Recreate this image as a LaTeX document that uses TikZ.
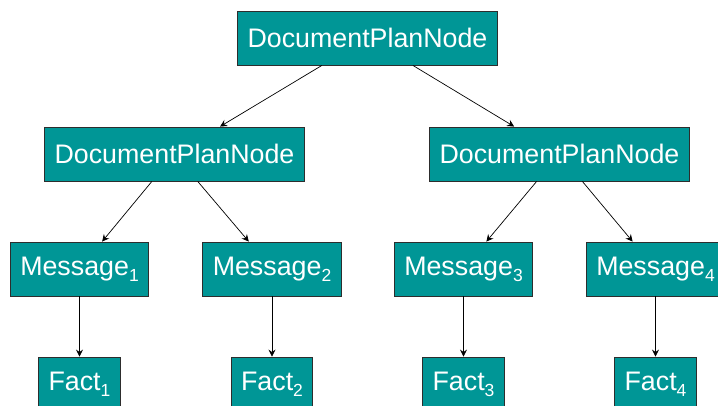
\documentclass[tikz,border=0pt]{standalone}
\usepackage{fontspec}
\setmainfont{Liberation Sans}
\usetikzlibrary{arrows.meta}
\definecolor{boxteal}{RGB}{0,150,150}
\definecolor{boxline}{RGB}{45,45,45}
\newcommand{\lowidx}[1]{\raisebox{-0.22em}{\fontsize{17.5}{17.5}\selectfont #1}}
\tikzset{
  treebox/.style={draw=boxline, line width=0.9pt, fill=boxteal, text=white,
    font=\fontsize{26.8}{30}\selectfont, inner xsep=10pt, inner ysep=0pt,
    minimum height=54pt, anchor=center},
  link/.style={-{Stealth[length=7pt,width=7pt,inset=2.5pt]}, line width=0.7pt, black}
}
\begin{document}
\begin{tikzpicture}[x=1pt,y=-1pt]
  \useasboundingbox (0,0) rectangle (718,405);
  % root and second level
  \node[treebox] (root) at (367.5,38) {DocumentPlanNode};
  \node[treebox] (dl) at (174.5,154) {DocumentPlanNode};
  \node[treebox] (dr) at (559.5,154) {DocumentPlanNode};
  % messages
  \node[treebox] (m1) at (79.5,269) {Message\lowidx{1}};
  \node[treebox] (m2) at (272,269) {Message\lowidx{2}};
  \node[treebox] (m3) at (463.5,269) {Message\lowidx{3}};
  \node[treebox] (m4) at (655.5,269) {Message\lowidx{4}};
  % facts
  \node[treebox] (f1) at (79.5,384) {Fact\lowidx{1}};
  \node[treebox] (f2) at (272,384) {Fact\lowidx{2}};
  \node[treebox] (f3) at (463.5,384) {Fact\lowidx{3}};
  \node[treebox] (f4) at (655.5,384) {Fact\lowidx{4}};
  % connectors
  \draw[link] (root) -- (dl);
  \draw[link] (root) -- (dr);
  \draw[link] (dl) -- (m1);
  \draw[link] (dl) -- (m2);
  \draw[link] (dr) -- (m3);
  \draw[link] (dr) -- (m4);
  \draw[link] (m1) -- (f1);
  \draw[link] (m2) -- (f2);
  \draw[link] (m3) -- (f3);
  \draw[link] (m4) -- (f4);
\end{tikzpicture}
\end{document}
